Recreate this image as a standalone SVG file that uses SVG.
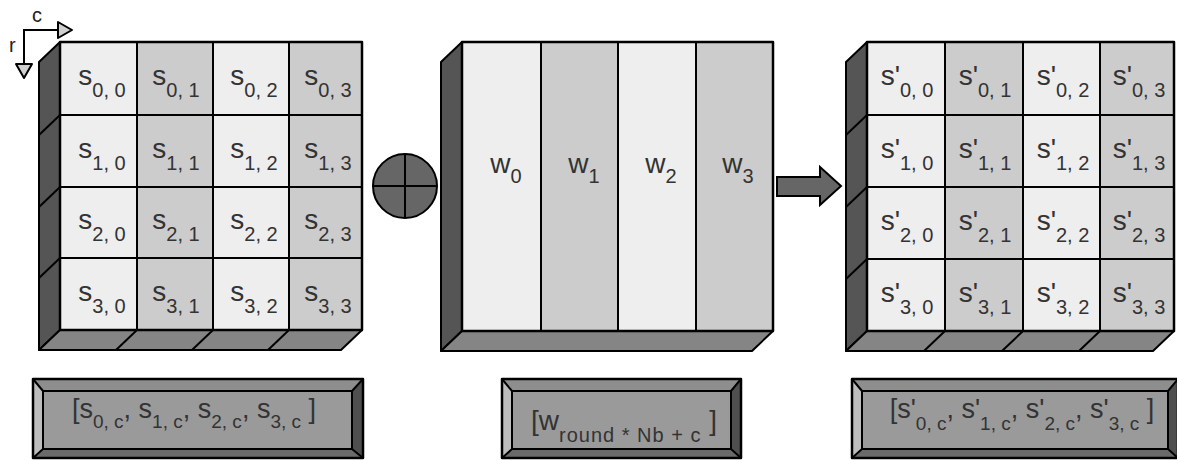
<svg xmlns="http://www.w3.org/2000/svg" width="1177" height="461" viewBox="0 0 1177 461">
  <style>
    .edge { stroke: #000; stroke-width: 2; stroke-linejoin: round; }
    .frame { fill: none; stroke: #000; stroke-width: 2.5; stroke-linejoin: round; }
    .light { fill: #eeeeee; }
    .mid { fill: #cccccc; }
    .side { fill: #555555; }
    .floor { fill: #858585; }
    .lbl { font-family: "Liberation Sans", Arial, sans-serif; font-size: 28px; fill: #333333; text-anchor: middle; }
    .sub { font-size: 20px; }
    .box { font-size: 27px; }
    .box .sub { font-size: 19px; }
    .bev-top { fill: #8e8e8e; }
    .bev-left { fill: #bdbdbd; }
    .bev-right { fill: #4f4f4f; }
    .bev-bot { fill: #6a6a6a; }
    .face { fill: #9a9a9a; }
    .axis { font-family: "Liberation Sans", Arial, sans-serif; font-size: 20px; fill: #222222; }
  </style>

  <!-- row / column orientation marker -->
  <g id="axes">
    <polyline points="59,30 24,30 24,64" fill="none" stroke="#000" stroke-width="2"/>
    <polygon points="58,22 72,30 58,38" fill="#d0d0d0" class="edge"/>
    <polygon points="16,64 32,64 24,78" fill="#d0d0d0" class="edge"/>
    <text class="axis" x="32" y="22">c</text>
    <text class="axis" x="9" y="52">r</text>
  </g>

  <!-- input state s -->
  <g id="state">
    <polygon class="side edge" points="39,62 60,42 60,330 39,350"/>
    <line class="edge" x1="60" y1="115" x2="39" y2="135"/>
    <line class="edge" x1="60" y1="187" x2="39" y2="207"/>
    <line class="edge" x1="60" y1="258" x2="39" y2="278"/>
    <polygon class="floor edge" points="60,330 362,330 341,350 39,350"/>
    <line class="edge" x1="137" y1="330" x2="116" y2="350"/>
    <line class="edge" x1="213" y1="330" x2="192" y2="350"/>
    <line class="edge" x1="289" y1="330" x2="268" y2="350"/>

    <rect class="light edge" x="60" y="42" width="77" height="73"/>
    <rect class="mid edge" x="137" y="42" width="76" height="73"/>
    <rect class="light edge" x="213" y="42" width="76" height="73"/>
    <rect class="mid edge" x="289" y="42" width="73" height="73"/>
    <rect class="light edge" x="60" y="115" width="77" height="72"/>
    <rect class="mid edge" x="137" y="115" width="76" height="72"/>
    <rect class="light edge" x="213" y="115" width="76" height="72"/>
    <rect class="mid edge" x="289" y="115" width="73" height="72"/>
    <rect class="light edge" x="60" y="187" width="77" height="71"/>
    <rect class="mid edge" x="137" y="187" width="76" height="71"/>
    <rect class="light edge" x="213" y="187" width="76" height="71"/>
    <rect class="mid edge" x="289" y="187" width="73" height="71"/>
    <rect class="light edge" x="60" y="258" width="77" height="72"/>
    <rect class="mid edge" x="137" y="258" width="76" height="72"/>
    <rect class="light edge" x="213" y="258" width="76" height="72"/>
    <rect class="mid edge" x="289" y="258" width="73" height="72"/>
    <rect class="frame" x="60" y="42" width="302" height="288"/>

    <text class="lbl" x="102" y="85">s<tspan class="sub" dy="12">0, 0</tspan></text>
    <text class="lbl" x="176" y="85">s<tspan class="sub" dy="12">0, 1</tspan></text>
    <text class="lbl" x="254" y="85">s<tspan class="sub" dy="12">0, 2</tspan></text>
    <text class="lbl" x="328" y="85">s<tspan class="sub" dy="12">0, 3</tspan></text>
    <text class="lbl" x="102" y="158">s<tspan class="sub" dy="12">1, 0</tspan></text>
    <text class="lbl" x="176" y="158">s<tspan class="sub" dy="12">1, 1</tspan></text>
    <text class="lbl" x="254" y="158">s<tspan class="sub" dy="12">1, 2</tspan></text>
    <text class="lbl" x="328" y="158">s<tspan class="sub" dy="12">1, 3</tspan></text>
    <text class="lbl" x="102" y="229">s<tspan class="sub" dy="12">2, 0</tspan></text>
    <text class="lbl" x="176" y="229">s<tspan class="sub" dy="12">2, 1</tspan></text>
    <text class="lbl" x="254" y="229">s<tspan class="sub" dy="12">2, 2</tspan></text>
    <text class="lbl" x="328" y="229">s<tspan class="sub" dy="12">2, 3</tspan></text>
    <text class="lbl" x="102" y="301">s<tspan class="sub" dy="12">3, 0</tspan></text>
    <text class="lbl" x="176" y="301">s<tspan class="sub" dy="12">3, 1</tspan></text>
    <text class="lbl" x="254" y="301">s<tspan class="sub" dy="12">3, 2</tspan></text>
    <text class="lbl" x="328" y="301">s<tspan class="sub" dy="12">3, 3</tspan></text>
  </g>

  <!-- XOR operator -->
  <g id="xor">
    <circle cx="405" cy="186" r="32" fill="#666666" stroke="#000" stroke-width="2"/>
    <line x1="373" y1="186" x2="437" y2="186" stroke="#000" stroke-width="2"/>
    <line x1="405" y1="154" x2="405" y2="218" stroke="#000" stroke-width="2"/>
  </g>

  <!-- round key words w -->
  <g id="roundkey">
    <polygon class="side edge" points="441,62 462,42 462,331 441,351"/>
    <polygon class="floor edge" points="462,331 773,331 752,351 441,351"/>
    <rect class="light edge" x="462" y="42" width="79" height="289"/>
    <rect class="mid edge" x="541" y="42" width="77" height="289"/>
    <rect class="light edge" x="618" y="42" width="78" height="289"/>
    <rect class="mid edge" x="696" y="42" width="77" height="289"/>
    <rect class="frame" x="462" y="42" width="311" height="289"/>

    <text class="lbl" x="506" y="173">w<tspan class="sub" dy="10">0</tspan></text>
    <text class="lbl" x="584" y="173">w<tspan class="sub" dy="10">1</tspan></text>
    <text class="lbl" x="661" y="173">w<tspan class="sub" dy="10">2</tspan></text>
    <text class="lbl" x="738" y="173">w<tspan class="sub" dy="10">3</tspan></text>
  </g>

  <!-- result state s' -->
  <g id="result">
    <polygon class="side edge" points="846,62 867,42 867,331 846,351"/>
    <line class="edge" x1="867" y1="115" x2="846" y2="135"/>
    <line class="edge" x1="867" y1="187" x2="846" y2="207"/>
    <line class="edge" x1="867" y1="259" x2="846" y2="279"/>
    <polygon class="floor edge" points="867,331 1174,331 1153,351 846,351"/>
    <line class="edge" x1="945" y1="331" x2="924" y2="351"/>
    <line class="edge" x1="1023" y1="331" x2="1002" y2="351"/>
    <line class="edge" x1="1100" y1="331" x2="1079" y2="351"/>

    <rect class="light edge" x="867" y="42" width="78" height="73"/>
    <rect class="mid edge" x="945" y="42" width="78" height="73"/>
    <rect class="light edge" x="1023" y="42" width="77" height="73"/>
    <rect class="mid edge" x="1100" y="42" width="74" height="73"/>
    <rect class="light edge" x="867" y="115" width="78" height="72"/>
    <rect class="mid edge" x="945" y="115" width="78" height="72"/>
    <rect class="light edge" x="1023" y="115" width="77" height="72"/>
    <rect class="mid edge" x="1100" y="115" width="74" height="72"/>
    <rect class="light edge" x="867" y="187" width="78" height="72"/>
    <rect class="mid edge" x="945" y="187" width="78" height="72"/>
    <rect class="light edge" x="1023" y="187" width="77" height="72"/>
    <rect class="mid edge" x="1100" y="187" width="74" height="72"/>
    <rect class="light edge" x="867" y="259" width="78" height="72"/>
    <rect class="mid edge" x="945" y="259" width="78" height="72"/>
    <rect class="light edge" x="1023" y="259" width="77" height="72"/>
    <rect class="mid edge" x="1100" y="259" width="74" height="72"/>
    <rect class="frame" x="867" y="42" width="307" height="289"/>

    <text class="lbl" x="907" y="85">s'<tspan class="sub" dy="12">0, 0</tspan></text>
    <text class="lbl" x="985" y="85">s'<tspan class="sub" dy="12">0, 1</tspan></text>
    <text class="lbl" x="1063" y="85">s'<tspan class="sub" dy="12">0, 2</tspan></text>
    <text class="lbl" x="1139" y="85">s'<tspan class="sub" dy="12">0, 3</tspan></text>
    <text class="lbl" x="907" y="158">s'<tspan class="sub" dy="12">1, 0</tspan></text>
    <text class="lbl" x="985" y="158">s'<tspan class="sub" dy="12">1, 1</tspan></text>
    <text class="lbl" x="1063" y="158">s'<tspan class="sub" dy="12">1, 2</tspan></text>
    <text class="lbl" x="1139" y="158">s'<tspan class="sub" dy="12">1, 3</tspan></text>
    <text class="lbl" x="907" y="230">s'<tspan class="sub" dy="12">2, 0</tspan></text>
    <text class="lbl" x="985" y="230">s'<tspan class="sub" dy="12">2, 1</tspan></text>
    <text class="lbl" x="1063" y="230">s'<tspan class="sub" dy="12">2, 2</tspan></text>
    <text class="lbl" x="1139" y="230">s'<tspan class="sub" dy="12">2, 3</tspan></text>
    <text class="lbl" x="907" y="302">s'<tspan class="sub" dy="12">3, 0</tspan></text>
    <text class="lbl" x="985" y="302">s'<tspan class="sub" dy="12">3, 1</tspan></text>
    <text class="lbl" x="1063" y="302">s'<tspan class="sub" dy="12">3, 2</tspan></text>
    <text class="lbl" x="1139" y="302">s'<tspan class="sub" dy="12">3, 3</tspan></text>
  </g>

  <!-- column of the input state -->
  <g id="state-column">
    <polygon class="bev-top" points="33,379 363,379 352,391 43,391"/>
    <polygon class="bev-left" points="33,379 43,391 43,449 33,458"/>
    <polygon class="bev-right" points="363,379 363,458 352,449 352,391"/>
    <polygon class="bev-bot" points="33,458 363,458 352,449 43,449"/>
    <rect class="face edge" x="43" y="391" width="309" height="58"/>
    <g class="edge">
      <line x1="33" y1="379" x2="43" y2="391"/>
      <line x1="363" y1="379" x2="352" y2="391"/>
      <line x1="33" y1="458" x2="43" y2="449"/>
      <line x1="363" y1="458" x2="352" y2="449"/>
    </g>
    <rect class="frame" x="33" y="379" width="330" height="79"/>
    <text class="lbl box" x="194" y="418">[s<tspan class="sub" dy="10">0, c</tspan><tspan dy="-10">, s</tspan><tspan class="sub" dy="10">1, c</tspan><tspan dy="-10">, s</tspan><tspan class="sub" dy="10">2, c</tspan><tspan dy="-10">, s</tspan><tspan class="sub" dy="10">3, c</tspan><tspan dy="-10"> ]</tspan></text>
  </g>

  <!-- round key word -->
  <g id="key-word">
    <polygon class="bev-top" points="502,379 741,379 731,391 512,391"/>
    <polygon class="bev-left" points="502,379 512,391 512,449 502,458"/>
    <polygon class="bev-right" points="741,379 741,458 731,449 731,391"/>
    <polygon class="bev-bot" points="502,458 741,458 731,449 512,449"/>
    <rect class="face edge" x="512" y="391" width="219" height="58"/>
    <g class="edge">
      <line x1="502" y1="379" x2="512" y2="391"/>
      <line x1="741" y1="379" x2="731" y2="391"/>
      <line x1="502" y1="458" x2="512" y2="449"/>
      <line x1="741" y1="458" x2="731" y2="449"/>
    </g>
    <rect class="frame" x="502" y="379" width="239" height="79"/>
    <text class="lbl" x="624" y="430" style="font-size:28px">[w<tspan class="sub" dy="12" style="font-size:20px;letter-spacing:1px">round * Nb + c</tspan><tspan dy="-12"> ]</tspan></text>
  </g>

  <!-- column of the result state -->
  <g id="result-column">
    <polygon class="bev-top" points="852,379 1178,379 1168,391 862,391"/>
    <polygon class="bev-left" points="852,379 862,391 862,449 852,458"/>
    <polygon class="bev-right" points="1178,379 1178,458 1168,449 1168,391"/>
    <polygon class="bev-bot" points="852,458 1178,458 1168,449 862,449"/>
    <rect class="face edge" x="862" y="391" width="306" height="58"/>
    <g class="edge">
      <line x1="852" y1="379" x2="862" y2="391"/>
      <line x1="1178" y1="379" x2="1168" y2="391"/>
      <line x1="852" y1="458" x2="862" y2="449"/>
      <line x1="1178" y1="458" x2="1168" y2="449"/>
    </g>
    <rect class="frame" x="852" y="379" width="326" height="79"/>
    <text class="lbl box" x="1022" y="418">[s'<tspan class="sub" dy="12">0, c</tspan><tspan dy="-12">, s'</tspan><tspan class="sub" dy="12">1, c</tspan><tspan dy="-12">, s'</tspan><tspan class="sub" dy="12">2, c</tspan><tspan dy="-12">, s'</tspan><tspan class="sub" dy="12">3, c</tspan><tspan dy="-12"> ]</tspan></text>
  </g>

  <!-- flow arrow to the result -->
  <g id="connectors">
    <polygon points="777,177 820,177 820,167 841,186 820,205 820,196 777,196" fill="#666666" stroke="#000" stroke-width="2" stroke-linejoin="miter"/>
  </g>
</svg>
